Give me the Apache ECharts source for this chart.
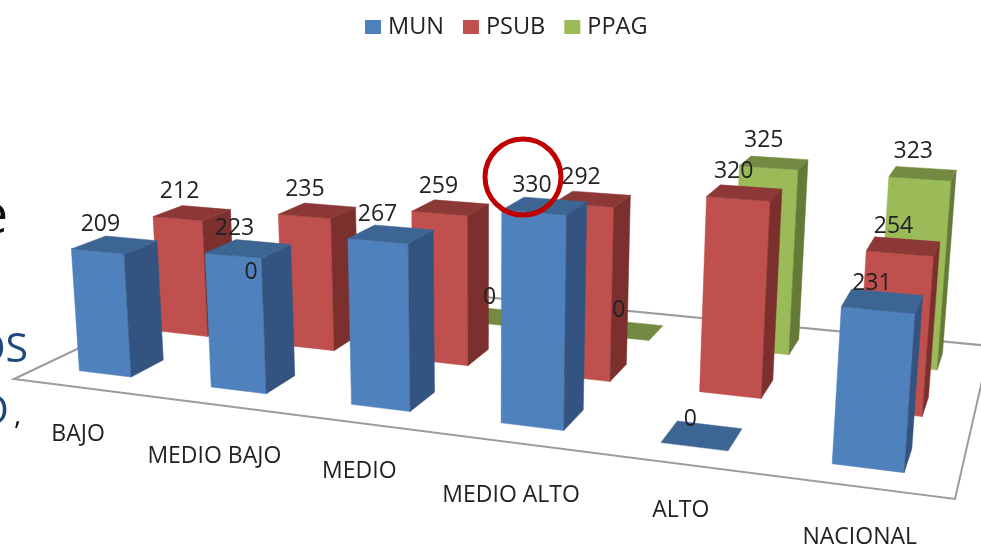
<!DOCTYPE html>
<html><head><meta charset="utf-8">
<style>html,body{margin:0;padding:0;background:#fff}#c{width:981px;height:546px}</style>
<script src="https://cdn.jsdelivr.net/npm/echarts@6/dist/echarts.min.js"></script>
</head><body><div id="c"></div>
<script>
const categories = ['BAJO','MEDIO BAJO','MEDIO','MEDIO ALTO','ALTO','NACIONAL'];
const mun  = [209,223,267,330,0,231];
const psub = [212,235,259,292,320,254];
const ppag = [0,null,0,0,325,323];
const seriesNames = ['MUN','PSUB','PPAG'];

const FONT = '"Open Sans", sans-serif';
const colors = [
  {front:'#4F81BD', side:'#335480', top:'#3D6593'},
  {front:'#C0504D', side:'#7B302E', top:'#8B3836'},
  {front:'#9BBB59', side:'#667A38', top:'#738A40'}
];
// floor corners on screen: front-left, front-right, back-right, back-left
const Q = [[14,379],[955,499],[990,346],[237,273]];
const VP = [482,6486];
const HK = 0.000095;
const BAR_U = 0.2, BAR_V = 0.2;
const LABEL_NUDGE = [[38,27],[34,30],[29,25],[20,28],[17,20],[10,22]];

const H = (function(){
  const [x0,y0]=Q[0],[x1,y1]=Q[1],[x2,y2]=Q[2],[x3,y3]=Q[3];
  const dx1=x1-x2,dx2=x3-x2,dx3=x0-x1+x2-x3,dy1=y1-y2,dy2=y3-y2,dy3=y0-y1+y2-y3;
  const det=dx1*dy2-dx2*dy1;
  const g=(dx3*dy2-dx2*dy3)/det,h=(dx1*dy3-dx3*dy1)/det;
  return {a:x1-x0+g*x1,b:x3-x0+h*x3,c:x0,d:y1-y0+g*y1,e:y3-y0+h*y3,f:y0,g:g,h:h};
})();
function proj(u,v,ht){
  const s=u/6,t=v/3;
  const w=H.g*s+H.h*t+1, X=H.a*s+H.b*t+H.c, Y=H.d*s+H.e*t+H.f;
  const m=-ht*HK;
  return [(X+m*VP[0])/(w+m),(Y+m*VP[1])/(w+m)];
}
function quad(pts,fill){
  return {type:'polygon',shape:{points:pts},style:{fill:fill,stroke:fill,lineWidth:0.5},silent:true};
}
function barRender(s){
  return function(params,api){
    const val=api.value(1);
    if(val==null||isNaN(val))return;
    const i=api.value(0);
    const ht=api.size([0,val])[1];
    const u0=i+.5-BAR_U,u1=i+.5+BAR_U,v0=s+.5-BAR_V,v1=s+.5+BAR_V;
    const c=colors[s];
    const ch=[];
    if(val>0){
      ch.push(quad([proj(u0,v0,0),proj(u1,v0,0),proj(u1,v0,ht),proj(u0,v0,ht)],c.front));
      ch.push(quad([proj(u1,v0,0),proj(u1,v1,0),proj(u1,v1,ht),proj(u1,v0,ht)],c.side));
    }
    ch.push(quad([proj(u0,v0,ht),proj(u1,v0,ht),proj(u1,v1,ht),proj(u0,v1,ht)],c.top));
    return {type:'group',children:ch};
  };
}
function labelRender(s){
  return function(params,api){
    const val=api.value(1);
    if(val==null||isNaN(val))return;
    const i=api.value(0);
    const ht=api.size([0,val])[1];
    const p=proj(i+.5,s+.5-BAR_V,ht);
    return {type:'text',silent:true,style:{x:p[0]*0.9885+4,y:p[1]-27,text:String(val),font:'23px '+FONT,fill:'#222',align:'center',verticalAlign:'middle'}};
  };
}
const rows=[mun,psub,ppag];
const series=[];
rows.forEach((arr,s)=>{
  series.push({type:'custom',name:seriesNames[s],coordinateSystem:'cartesian2d',z:6-s,
    itemStyle:{color:colors[s].front},encode:{x:0,y:1},clip:false,
    data:arr.map((v,i)=>[i,v==null?'-':v]),renderItem:barRender(s)});
});
rows.forEach((arr,s)=>{
  series.push({type:'custom',coordinateSystem:'cartesian2d',z:20,encode:{x:0,y:1},clip:false,silent:true,
    data:arr.map((v,i)=>[i,v==null?'-':v]),renderItem:labelRender(s)});
});
// floor outline + category labels
series.push({type:'custom',coordinateSystem:'cartesian2d',z:1,clip:false,silent:true,encode:{x:0,y:1},
  data:[[0,0]],renderItem:function(){
    return {type:'polygon',silent:true,shape:{points:[proj(0,0,0),proj(6,0,0),proj(6,3,0),proj(0,3,0)]},style:{fill:'none',stroke:'#9c9c9c',lineWidth:2}};
  }});
series.push({type:'custom',coordinateSystem:'cartesian2d',z:20,clip:false,silent:true,encode:{x:0,y:1},
  data:categories.map((c,i)=>[i,0]),renderItem:function(params,api){
    const i=api.value(0);
    const p=proj(i+.5,-0.42,0);
    return {type:'text',silent:true,style:{x:p[0]+LABEL_NUDGE[i][0],y:p[1]+LABEL_NUDGE[i][1],text:categories[i],font:'23px '+FONT,fill:'#222',align:'center',verticalAlign:'middle'}};
  }});

const chart=echarts.init(document.getElementById('c'),null,{renderer:'canvas'});
chart.setOption({
  animation:false,backgroundColor:'#fff',
  legend:{data:seriesNames,left:360,top:10,icon:'rect',itemWidth:16,itemHeight:14,itemGap:19,selectedMode:false,
    textStyle:{fontFamily:FONT,fontSize:23.5,color:'#222',padding:[0,0,0,2]}},
  grid:{left:0,right:0,top:96,height:350},
  xAxis:{type:'category',data:categories,show:false},
  yAxis:{type:'value',min:0,max:350,interval:50,show:false},
  series:series,
  graphic:[
    {type:'text',z:30,silent:true,style:{x:8,y:218,text:'e',font:'54px '+FONT,fill:'#111',align:'right',verticalAlign:'middle'}},
    {type:'text',z:30,silent:true,style:{x:28,y:350,text:'OS',font:'41px '+FONT,fill:'#1F497D',align:'right',verticalAlign:'middle'}},
    {type:'text',z:30,silent:true,style:{x:9,y:412,text:'O',font:'41px '+FONT,fill:'#1F497D',align:'right',verticalAlign:'middle'}},
    {type:'text',z:30,silent:true,style:{x:14,y:416,text:',',font:'28px '+FONT,fill:'#111',align:'left',verticalAlign:'middle'}},
    {type:'circle',z:40,silent:true,shape:{cx:523,cy:177,r:38},style:{fill:'none',stroke:'#C00000',lineWidth:5}}
  ]
});
</script></body></html>
